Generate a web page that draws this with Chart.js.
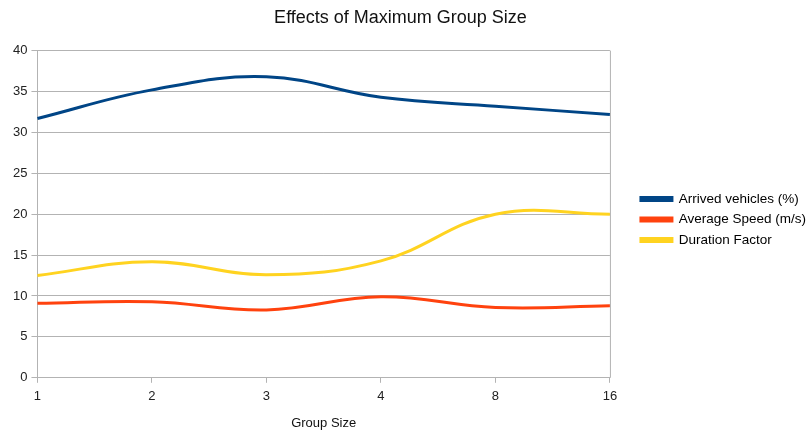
<!DOCTYPE html>
<html>
<head>
<meta charset="utf-8">
<script src="https://cdn.jsdelivr.net/npm/chart.js@4/dist/chart.umd.min.js"></script>
<style>
    html, body { margin: 0; padding: 0; background: #fff; }
    #wrap { width: 808px; height: 431px; }
</style>
</head>
<body>
<div id="wrap"><canvas id="chart"></canvas></div>
<script>
// === DATA ===
const groupSizes = ['1', '2', '3', '4', '8', '16'];
const arrivedVehicles = [31.7, 35.2, 36.8, 34.3, 33.2, 32.2];
const averageSpeed = [9.1, 9.3, 8.3, 9.9, 8.6, 8.8];
const durationFactor = [12.5, 14.2, 12.6, 14.3, 20.0, 20.0];
const yTicks = [0, 5, 10, 15, 20, 25, 30, 35, 40];

const FONT = "'Liberation Sans', Arial, sans-serif";
const GRID = '#b3b3b3';
const LEGEND_SHIFT_X = 24;
const LEGEND_SHIFT_Y = 4;

// right-hand frame line of the plot area + nudge legend away from the plot
const frameLine = {
    id: 'frameLine',
    afterLayout(chart) {
        chart.legend.left += LEGEND_SHIFT_X;
        chart.legend.right += LEGEND_SHIFT_X;
        chart.legend.top += LEGEND_SHIFT_Y;
        chart.legend.bottom += LEGEND_SHIFT_Y;
    },
    afterDraw(chart) {
        const { ctx, chartArea } = chart;
        ctx.save();
        ctx.strokeStyle = GRID;
        ctx.lineWidth = 1;
        ctx.beginPath();
        ctx.moveTo(chartArea.right + 0.5, chartArea.top);
        ctx.lineTo(chartArea.right + 0.5, chartArea.bottom);
        ctx.stroke();
        ctx.restore();
    }
};

function series(label, data, color) {
    return {
        label: label,
        data: data,
        borderColor: color,
        backgroundColor: color,
        borderWidth: 3,
        pointRadius: 0,
        fill: false,
        tension: 0.4
    };
}

new Chart(document.getElementById('chart').getContext('2d'), {
    type: 'line',
    data: {
        labels: groupSizes,
        datasets: [
            series('Arrived vehicles (%)', arrivedVehicles, '#004586'),
            series('Average Speed (m/s)', averageSpeed, '#ff420e'),
            series('Duration Factor', durationFactor, '#ffd320')
        ]
    },
    plugins: [frameLine],
    options: {
        responsive: true,
        maintainAspectRatio: false,
        animation: false,
        layout: { padding: { left: 9, right: 16, top: 0, bottom: 0 } },
        plugins: {
            title: {
                display: true,
                text: 'Effects of Maximum Group Size',
                color: '#111',
                font: { size: 18, family: FONT, weight: 'normal' },
                padding: { top: 7, bottom: 22 }
            },
            legend: {
                position: 'right',
                labels: {
                    color: '#000',
                    font: { size: 13.5, family: FONT },
                    boxWidth: 31,
                    boxHeight: 3,
                    padding: 7
                }
            },
            tooltip: { enabled: false }
        },
        scales: {
            x: {
                offset: false,
                grid: { display: true, drawOnChartArea: false, drawTicks: true, tickLength: 5, color: GRID },
                border: { display: true, color: GRID },
                ticks: { color: '#222', font: { size: 13, family: FONT }, padding: 6, maxRotation: 0 },
                title: { display: true, text: 'Group Size', color: '#111', font: { size: 13, family: FONT }, padding: { top: 5, bottom: 0 } }
            },
            y: {
                min: 0,
                max: 40,
                afterBuildTicks: axis => { axis.ticks = yTicks.map(v => ({ value: v })); },
                grid: { color: GRID, tickLength: 6 },
                border: { display: true, color: GRID },
                ticks: { color: '#222', font: { size: 13, family: FONT }, padding: 4 }
            }
        }
    }
});
</script>
</body>
</html>
